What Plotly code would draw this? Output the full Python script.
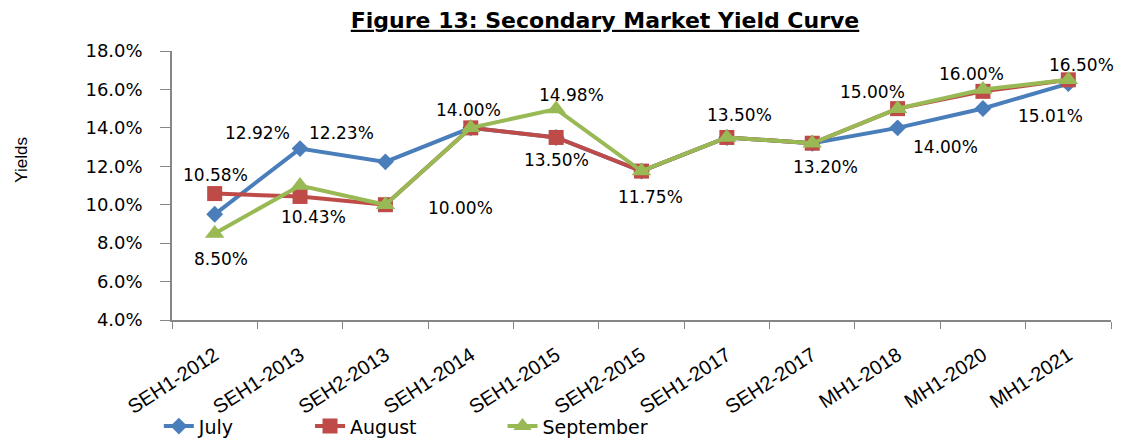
import plotly.graph_objects as go

categories = ["SEH1-2012", "SEH1-2013", "SEH2-2013", "SEH1-2014", "SEH1-2015", "SEH2-2015",
              "SEH1-2017", "SEH2-2017", "MH1-2018", "MH1-2020", "MH1-2021"]
july = [9.50, 12.92, 12.23, 14.00, 13.50, 11.75, 13.50, 13.20, 14.00, 15.01, 16.30]
august = [10.58, 10.43, 10.00, 14.00, 13.50, 11.75, 13.50, 13.20, 15.00, 15.90, 16.50]
september = [8.50, 11.00, 10.00, 14.00, 14.98, 11.75, 13.50, 13.20, 15.00, 16.00, 16.50]

# data labels: (series, category index, label text)
label_series = ["august", "july", "september", "august", "july", "august", "september",
                "september", "august", "august", "september", "august", "september", "july",
                "september", "july", "august"]
label_cat = [0, 1, 0, 1, 2, 2, 3, 4, 4, 5, 6, 7, 8, 8, 9, 9, 10]
label_text = ["10.58%", "12.92%", "8.50%", "10.43%", "12.23%", "10.00%", "14.00%", "14.98%",
              "13.50%", "11.75%", "13.50%", "13.20%", "15.00%", "14.00%", "16.00%", "15.01%", "16.50%"]
# pixel shifts for label placement (styling)
label_dx = [1, -43, 6, 13, -44, 75, -2, 15, 0, 9, 13, 13, -25, 48, -11, 68, 13]
label_dy = [19, 16, -25, -21, 29, -3, 18, 14, -23, -26, 22, -24, 17, -19, 15, -8, 15]

series = {"july": july, "august": august, "september": september}

fig = go.Figure()
fig.add_trace(go.Scatter(x=categories, y=july, name="July", mode="lines+markers",
                         line=dict(color="#4A7EBB", width=4),
                         marker=dict(symbol="diamond", size=13, color="#4A7EBB"),
                         legend="legend"))
fig.add_trace(go.Scatter(x=categories, y=august, name="August", mode="lines+markers",
                         line=dict(color="#BE4B48", width=4),
                         marker=dict(symbol="square", size=15, color="#BE4B48"),
                         legend="legend2"))
fig.add_trace(go.Scatter(x=categories, y=september, name="September", mode="lines+markers",
                         line=dict(color="#98B954", width=4),
                         marker=dict(symbol="triangle-up", size=17, color="#98B954"),
                         legend="legend3"))

for s, c, t, dx, dy in zip(label_series, label_cat, label_text, label_dx, label_dy):
    fig.add_annotation(x=categories[c], y=series[s][c], text=t, showarrow=False,
                       xshift=dx, yshift=dy,
                       font=dict(family="DejaVu Sans", size=17, color="#000000"))

fig.add_annotation(xref="paper", yref="paper", x=-0.16, y=0.595, text="Yields", textangle=-90,
                   showarrow=False, xanchor="center", yanchor="middle",
                   font=dict(family="Liberation Sans", size=17, color="#000"))

legend_style = dict(orientation="h", xanchor="left", y=-0.395, yanchor="middle",
                    font=dict(family="DejaVu Sans", size=19, color="#000"),
                    bgcolor="rgba(0,0,0,0)")

# page has an 8px body margin, so figure is sized/offset to compensate
fig.update_layout(
    width=1121, height=431,
    paper_bgcolor="white", plot_bgcolor="white",
    margin=dict(l=164, r=18, t=43, b=119, autoexpand=False),
    title=dict(text="<b><u>Figure 13: Secondary Market Yield Curve</u></b>",
               x=597 / 1121, xanchor="center", y=0.972, yanchor="middle", automargin=False,
               font=dict(family="DejaVu Sans", size=22, color="#000")),
    showlegend=True,
    legend=dict(x=-0.014, **legend_style),
    legend2=dict(x=0.147, **legend_style),
    legend3=dict(x=0.352, **legend_style),
)
fig.update_xaxes(type="category", range=[-0.5, 10.5], showline=True, linecolor="#868686",
                 linewidth=1.5, ticks="outside", tickson="boundaries", ticklen=7,
                 tickcolor="#868686", tickangle=-33, showgrid=False, zeroline=False,
                 automargin=False, ticklabelstandoff=14,
                 tickfont=dict(family="Liberation Sans", size=20, color="#000"))
fig.update_yaxes(range=[4, 18], dtick=2, tick0=4, tickformat=".1f", ticksuffix="%",
                 showline=True, linecolor="#868686", linewidth=1.5, ticks="outside",
                 ticklen=10, tickcolor="#868686", showgrid=False, zeroline=False,
                 automargin=False, ticklabelstandoff=14,
                 tickfont=dict(family="DejaVu Sans", size=18, color="#000"))

fig.write_html("out.html")
